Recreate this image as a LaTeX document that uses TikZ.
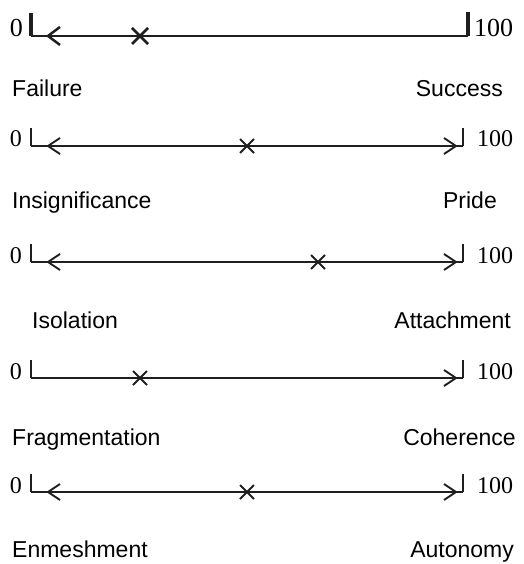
\documentclass[tikz,border=0pt]{standalone}
\usepackage{fontspec}
\setmainfont{Liberation Serif}
\newfontfamily\labelfont{Liberation Sans}
\begin{document}
\begin{tikzpicture}[x=1pt,y=-1pt,
  lbl/.style={inner sep=0pt,font=\labelfont\fontsize{23}{27}\selectfont},
  num/.style={inner sep=0pt,font=\fontsize{24}{28}\selectfont},
  numbig/.style={inner sep=0pt,font=\fontsize{26}{30}\selectfont},
  scl/.style={line width=1.9pt,black!88},
  sclthick/.style={line width=2.8pt,black!88},
  brk/.style={line width=2.6pt,black!88},
  chev/.style={line width=1.9pt,black!88},
  xm/.style={line width=2.1pt,black!88}]
\useasboundingbox (0,0) rectangle (523,564);

% ---------- Row 1 ----------
\coordinate (l1) at (31,36); \coordinate (r1) at (468,36);
\coordinate (lt1) at (31,13); \coordinate (rt1) at (468,12);
\draw[brk,line width=3.2pt] (lt1) -- (l1);
\draw[brk,line width=3.2pt] (rt1) -- (r1);
\draw[sclthick] (l1) -- (r1);
\coordinate (a1) at (48,36);
\draw[chev,line width=2.5pt] ([shift={(12,-9)}]a1) -- (a1) -- ([shift={(12,9)}]a1);
\coordinate (x1) at (140,36);
\draw[xm,line width=2.6pt] ([shift={(-8,-8)}]x1) -- ([shift={(8,8)}]x1)
  ([shift={(-8,8)}]x1) -- ([shift={(8,-8)}]x1);
\node[numbig,anchor=base east] (z1) at (23,37) {0};
\node[numbig,anchor=base west] (h1) at (474,37) {100};
\node[lbl,anchor=base west] (f1) at (12,97) {Failure};
\node[lbl,anchor=base east] (s1) at (503,97) {Success};

% ---------- Row 2 ----------
\coordinate (l2) at (31,146); \coordinate (r2) at (463,146);
\coordinate (lt2) at (31,128); \coordinate (rt2) at (463,128);
\draw[brk] (lt2) -- (l2);
\draw[brk] (rt2) -- (r2);
\draw[scl] (l2) -- (r2);
\coordinate (a2) at (48,146); \coordinate (b2) at (456,146);
\draw[chev] ([shift={(12,-8)}]a2) -- (a2) -- ([shift={(12,8)}]a2);
\draw[chev] ([shift={(-12,-8)}]b2) -- (b2) -- ([shift={(-12,8)}]b2);
\coordinate (x2) at (247,146);
\draw[xm] ([shift={(-7,-7)}]x2) -- ([shift={(7,7)}]x2)
  ([shift={(-7,7)}]x2) -- ([shift={(7,-7)}]x2);
\node[num,anchor=base east] (z2) at (22,147) {0};
\node[num,anchor=base west] (h2) at (477,147) {100};
\node[lbl,anchor=base west] (f2) at (12,208) {Insignificance};
\node[lbl,anchor=base east] (s2) at (497,208) {Pride};

% ---------- Row 3 ----------
\coordinate (l3) at (31,262); \coordinate (r3) at (463,262);
\coordinate (lt3) at (31,244); \coordinate (rt3) at (463,244);
\draw[brk] (lt3) -- (l3);
\draw[brk] (rt3) -- (r3);
\draw[scl] (l3) -- (r3);
\coordinate (a3) at (48,262); \coordinate (b3) at (456,262);
\draw[chev] ([shift={(12,-8)}]a3) -- (a3) -- ([shift={(12,8)}]a3);
\draw[chev] ([shift={(-12,-8)}]b3) -- (b3) -- ([shift={(-12,8)}]b3);
\coordinate (x3) at (318,262);
\draw[xm] ([shift={(-7,-7)}]x3) -- ([shift={(7,7)}]x3)
  ([shift={(-7,7)}]x3) -- ([shift={(7,-7)}]x3);
\node[num,anchor=base east] (z3) at (22,263) {0};
\node[num,anchor=base west] (h3) at (477,263) {100};
\node[lbl,anchor=base west] (f3) at (32,328) {Isolation};
\node[lbl,anchor=base east] (s3) at (511,328) {Attachment};

% ---------- Row 4 ----------
\coordinate (l4) at (31,378); \coordinate (r4) at (463,378);
\coordinate (lt4) at (31,360); \coordinate (rt4) at (463,360);
\draw[brk] (lt4) -- (l4);
\draw[brk] (rt4) -- (r4);
\draw[scl] (l4) -- (r4);
\coordinate (b4) at (456,378);
\draw[chev] ([shift={(-12,-8)}]b4) -- (b4) -- ([shift={(-12,8)}]b4);
\coordinate (x4) at (140,378);
\draw[xm] ([shift={(-7,-7)}]x4) -- ([shift={(7,7)}]x4)
  ([shift={(-7,7)}]x4) -- ([shift={(7,-7)}]x4);
\node[num,anchor=base east] (z4) at (22,379) {0};
\node[num,anchor=base west] (h4) at (477,379) {100};
\node[lbl,anchor=base west] (f4) at (12,445) {Fragmentation};
\node[lbl,anchor=base east] (s4) at (516,445) {Coherence};

% ---------- Row 5 ----------
\coordinate (l5) at (31,492); \coordinate (r5) at (463,492);
\coordinate (lt5) at (31,474); \coordinate (rt5) at (463,474);
\draw[brk] (lt5) -- (l5);
\draw[brk] (rt5) -- (r5);
\draw[scl] (l5) -- (r5);
\coordinate (a5) at (48,492); \coordinate (b5) at (456,492);
\draw[chev] ([shift={(12,-8)}]a5) -- (a5) -- ([shift={(12,8)}]a5);
\draw[chev] ([shift={(-12,-8)}]b5) -- (b5) -- ([shift={(-12,8)}]b5);
\coordinate (x5) at (247,492);
\draw[xm] ([shift={(-7,-7)}]x5) -- ([shift={(7,7)}]x5)
  ([shift={(-7,7)}]x5) -- ([shift={(7,-7)}]x5);
\node[num,anchor=base east] (z5) at (22,493) {0};
\node[num,anchor=base west] (h5) at (477,493) {100};
\node[lbl,anchor=base west] (f5) at (12,557) {Enmeshment};
\node[lbl,anchor=base east] (s5) at (514,557) {Autonomy};
\end{tikzpicture}
\end{document}
